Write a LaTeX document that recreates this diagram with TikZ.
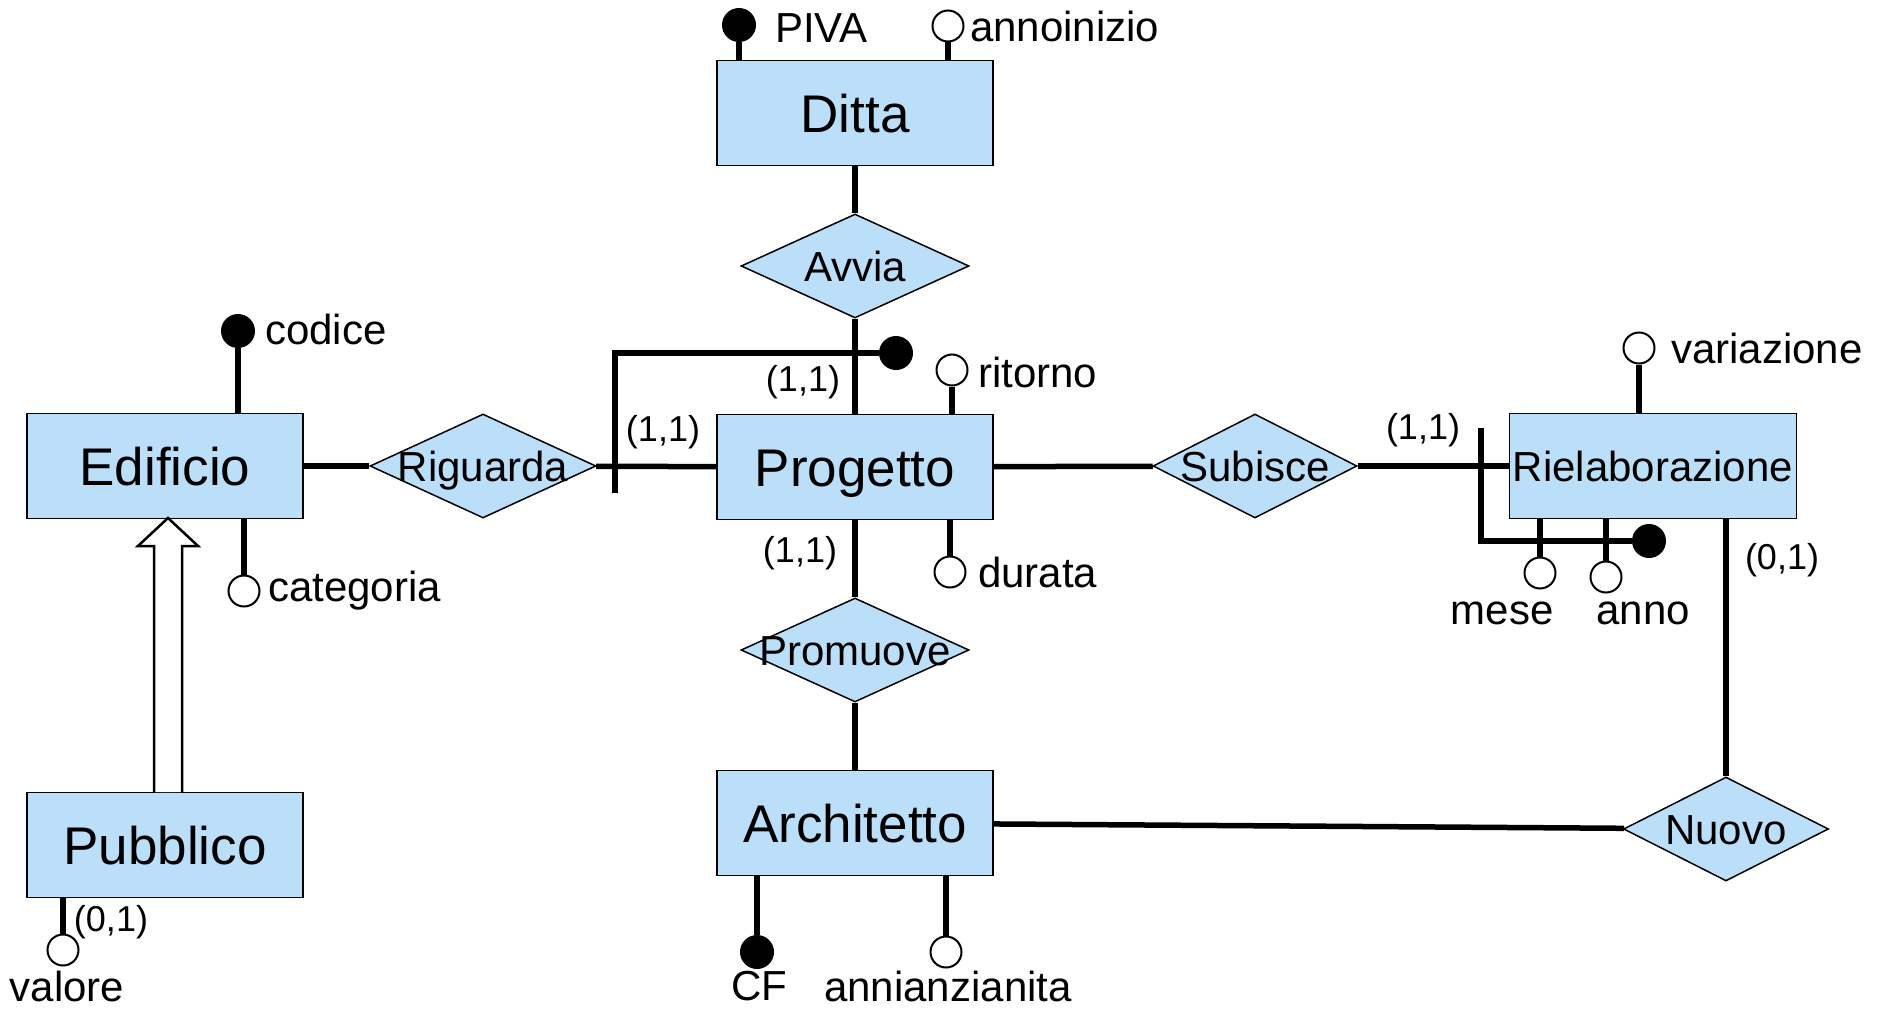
\documentclass[tikz,border=0pt]{standalone}
\usepackage{fontspec}
\setmainfont{Liberation Sans}
\usetikzlibrary{shapes.geometric}
\definecolor{erblue}{RGB}{187,222,249}
\tikzset{
    entity/.style={draw, line width=1.5pt, fill=erblue, minimum width=276pt,
        minimum height=105pt, inner sep=0pt, font=\fontsize{53}{60}\selectfont,
        text height=39pt, text depth=0pt},
    relation/.style={draw, diamond, line width=1.5pt, fill=erblue, inner sep=0pt,
        minimum height=104pt},
    reltext/.style={font=\fontsize{42}{48}\selectfont, inner sep=0pt,
        text height=31pt, text depth=0pt},
    conn/.style={line width=5.5pt},
    keyattr/.style={circle, fill=black, minimum size=34pt, inner sep=0pt},
    attr/.style={circle, draw, line width=2pt, fill=white, minimum size=31pt, inner sep=0pt},
    attrtext/.style={font=\fontsize{42}{48}\selectfont, inner sep=0pt},
    card/.style={font=\fontsize{36}{42}\selectfont, inner sep=0pt},
    isa/.style={draw, line width=2.5pt, fill=white}
}

\begin{document}
\begin{tikzpicture}[x=1pt, y=-1pt]

% Page
\path[fill=white] (0,0) rectangle (1877,1011);

% Entities
\node[entity] (ditta) at (855,113) {Ditta};
\node[entity] (progetto) at (855,467) {Progetto};
\node[entity] (edificio) at (165,466) {Edificio};
\node[entity] (pubblico) at (165,845) {Pubblico};
\node[entity] (architetto) at (855,823) {Architetto};
\node[entity, minimum width=287pt, font=\fontsize{42}{48}\selectfont,
    text height=31pt] (riel) at (1653,466) {Rielaborazione};

% Relations
\node[relation, minimum width=228pt, label={[reltext]center:Avvia}] (avvia) at (855,266) {};
\node[relation, minimum width=226pt, label={[reltext]center:Riguarda}] (riguarda) at (483,466) {};
\node[relation, minimum width=228pt, label={[reltext]center:Promuove}] (promuove) at (855,650) {};
\node[relation, minimum width=204pt, label={[reltext]center:Subisce}] (subisce) at (1255,466) {};
\node[relation, minimum width=205pt, label={[reltext]center:Nuovo}] (nuovo) at (1726,829) {};

% Links
\draw[conn] (ditta) -- (avvia);
\draw[conn] (avvia) -- (progetto);
\draw[conn] (edificio) -- (riguarda);
\draw[conn] (riguarda) -- (progetto);
\draw[conn] (progetto) -- (promuove);
\draw[conn] (promuove) -- (architetto);
\draw[conn] (progetto) -- (subisce);
\draw[conn] (subisce) -- (riel);
\draw[conn] (architetto) -- (nuovo);
\draw[conn] (riel.south -| nuovo) -- (nuovo);

% Generalization
\coordinate (isatip) at (168,518);
\coordinate (isabase) at (168,792);
\draw[isa] (154,792) -- (154,546) -- (138,546) -- (isatip) -- (198,546)
    -- (182,546) -- (182,792);

% Attributes of Ditta
\node[keyattr] (piva) at (739,25) {};
\node[attrtext, anchor=west] (pivatext) at (775,28) {PIVA};
\draw[conn] (piva) -- (ditta.north -| piva);
\node[attr] (annoinizio) at (948,26) {};
\node[attrtext, anchor=west] (annoiniziotext) at (970,26) {annoinizio};
\draw[conn] (annoinizio) -- (ditta.north -| annoinizio);

% Attributes of Edificio
\node[keyattr] (codice) at (238,331) {};
\node[attrtext, anchor=west] (codicetext) at (265,329) {codice};
\draw[conn] (codice) -- (edificio.north -| codice);
\node[attr] (categoria) at (244,591) {};
\node[attrtext, anchor=west] (categoriatext) at (268,591) {categoria};
\draw[conn] (categoria) -- (edificio.south -| categoria);

% Attributes of Pubblico
\node[attr] (valore) at (63,950) {};
\node[attrtext] (valoretext) at (67,986) {valore};
\draw[conn] (valore) -- (pubblico.south -| valore);
\node[card] (cvalore) at (111,922) {(0,1)};

% Attributes of Progetto
\node[attr] (ritorno) at (952,370) {};
\node[attrtext, anchor=west] (ritornotext) at (978,372) {ritorno};
\draw[conn] (ritorno) -- (progetto.north -| ritorno);
\node[attr] (durata) at (950,572) {};
\node[attrtext, anchor=west] (duratatext) at (978,572) {durata};
\draw[conn] (durata) -- (progetto.south -| durata);

% External identifier of Progetto
\node[keyattr] (pid) at (896,353) {};
\coordinate (pidcorner) at (615,353);
\coordinate (pidend) at (615,493);
\draw[conn] (pid) -- (pidcorner) -- (pidend);

% Attributes of Architetto
\node[keyattr] (cf) at (757,952) {};
\node[attrtext] (cftext) at (759,986) {CF};
\draw[conn] (cf) -- (architetto.south -| cf);
\node[attr] (anzianita) at (946,952) {};
\node[attrtext] (anzianitatext) at (948,986) {annianzianita};
\draw[conn] (anzianita) -- (architetto.south -| anzianita);

% Attributes of Rielaborazione
\node[attr] (variazione) at (1639,348) {};
\node[attrtext, anchor=west] (variazionetext) at (1671,348) {variazione};
\draw[conn] (variazione) -- (riel.north -| variazione);
\node[attr] (mese) at (1540,573) {};
\node[attrtext] (mesetext) at (1502,613) {mese};
\draw[conn] (mese) -- (riel.south -| mese);
\node[attr] (anno) at (1606,577) {};
\node[attrtext] (annotext) at (1643,613) {anno};
\draw[conn] (anno) -- (riel.south -| anno);

% External identifier of Rielaborazione
\node[keyattr] (rid) at (1649,541) {};
\coordinate (ridtop) at (1481,428);
\coordinate (ridcorner) at (1481,541);
\draw[conn] (ridtop) -- (ridcorner) -- (rid);

% Cardinalities
\node[card] (cavvia) at (803,382) {(1,1)};
\node[card] (criguarda) at (663,432) {(1,1)};
\node[card] (cpromuove) at (800,553) {(1,1)};
\node[card] (csubisce) at (1423,430) {(1,1)};
\node[card] (cnuovo) at (1782,560) {(0,1)};

\end{tikzpicture}
\end{document}
